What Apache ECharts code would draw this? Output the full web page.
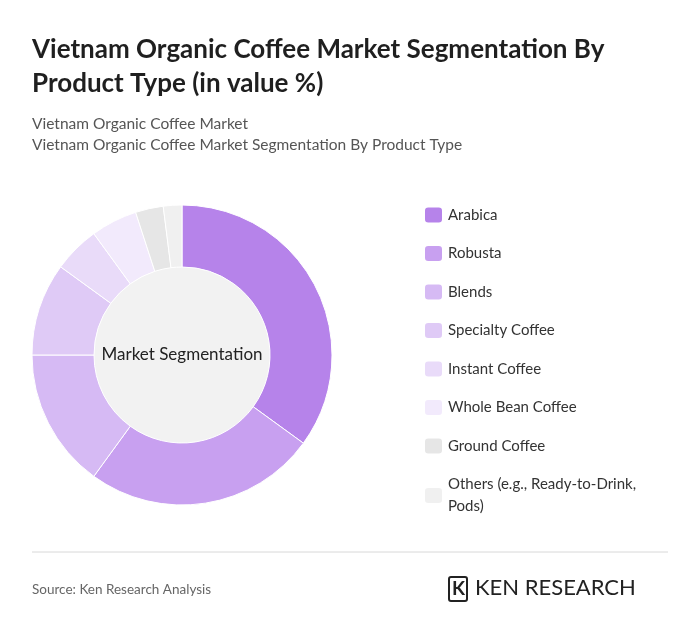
<!DOCTYPE html>
<html><head><meta charset="utf-8">
<script src="https://cdn.jsdelivr.net/npm/echarts@6/dist/echarts.min.js"></script>
<style>html,body{margin:0;padding:0;background:#fff}#c{width:700px;height:637px}</style>
</head><body><div id="c"></div>
<script>
const categories = ["Arabica","Robusta","Blends","Specialty Coffee","Instant Coffee","Whole Bean Coffee","Ground Coffee","Others (e.g., Ready-to-Drink, Pods)"];
const values = [35,25,15,10,5,5,3,2];
const colors = ["#b683ea","#c8a0f0","#d6baf4","#dfcaf6","#e9dbf9","#f2eafc","#e6e6e6","#f0f0f0"];
const chart = echarts.init(document.getElementById('c'));
const font = "Lato, 'Open Sans', sans-serif";
chart.setOption({
  animation:false,
  graphic:[
    {type:'text',left:32,top:33,style:{text:'Vietnam Organic Coffee Market Segmentation By\nProduct Type (in value %)',font:"bold 26px "+font,fill:'#1f1f1f',lineHeight:34}},
    {type:'text',left:32,top:113,style:{text:'Vietnam Organic Coffee Market\nVietnam Organic Coffee Market Segmentation By Product Type',font:"15.5px "+font,fill:'#555',lineHeight:21}},
    {type:'line',shape:{x1:32,y1:552,x2:668,y2:552},style:{stroke:'#d8d8d8',lineWidth:1}},
    {type:'text',left:32,top:583,style:{text:'Source: Ken Research Analysis',font:"13.5px "+font,fill:'#666'}},
    {type:'rect',shape:{x:449,y:577,width:18,height:24,r:2},style:{fill:'none',stroke:'#222',lineWidth:2}},
    {type:'text',left:452,top:579,style:{text:'K',font:"bold 19px "+font,fill:'#222'}},
    {type:'text',left:475,top:577,style:{text:'KEN RESEARCH',font:"22px "+font,fill:'#222',letterSpacing:1.5}}
  ],
  legend:{
    orient:'vertical',left:418,top:199,itemWidth:19,itemHeight:17,itemGap:16.5,
    icon:'roundRect',
    textStyle:{fontFamily:font,fontSize:15,color:'#333',lineHeight:22},
    formatter:n=>n==="Others (e.g., Ready-to-Drink, Pods)"?"Others (e.g., Ready-to-Drink,\nPods)":n,
    data:categories
  },
  series:[
    {type:'pie',center:[182,355],radius:[0,88],silent:true,label:{show:true,position:'center',formatter:'Market Segmentation',fontFamily:font,fontSize:17,color:'#222'},
     data:[{value:1,name:'_c',itemStyle:{color:'#f2f2f2'}}],legendHoverLink:false},
    {type:'pie',center:[182,355],radius:[88,150],startAngle:90,clockwise:true,
     label:{show:false},labelLine:{show:false},
     itemStyle:{borderColor:'#fff',borderWidth:1},
     data:categories.map((c,i)=>({name:c,value:values[i],itemStyle:{color:colors[i]}}))}
  ]
});
</script></body></html>
